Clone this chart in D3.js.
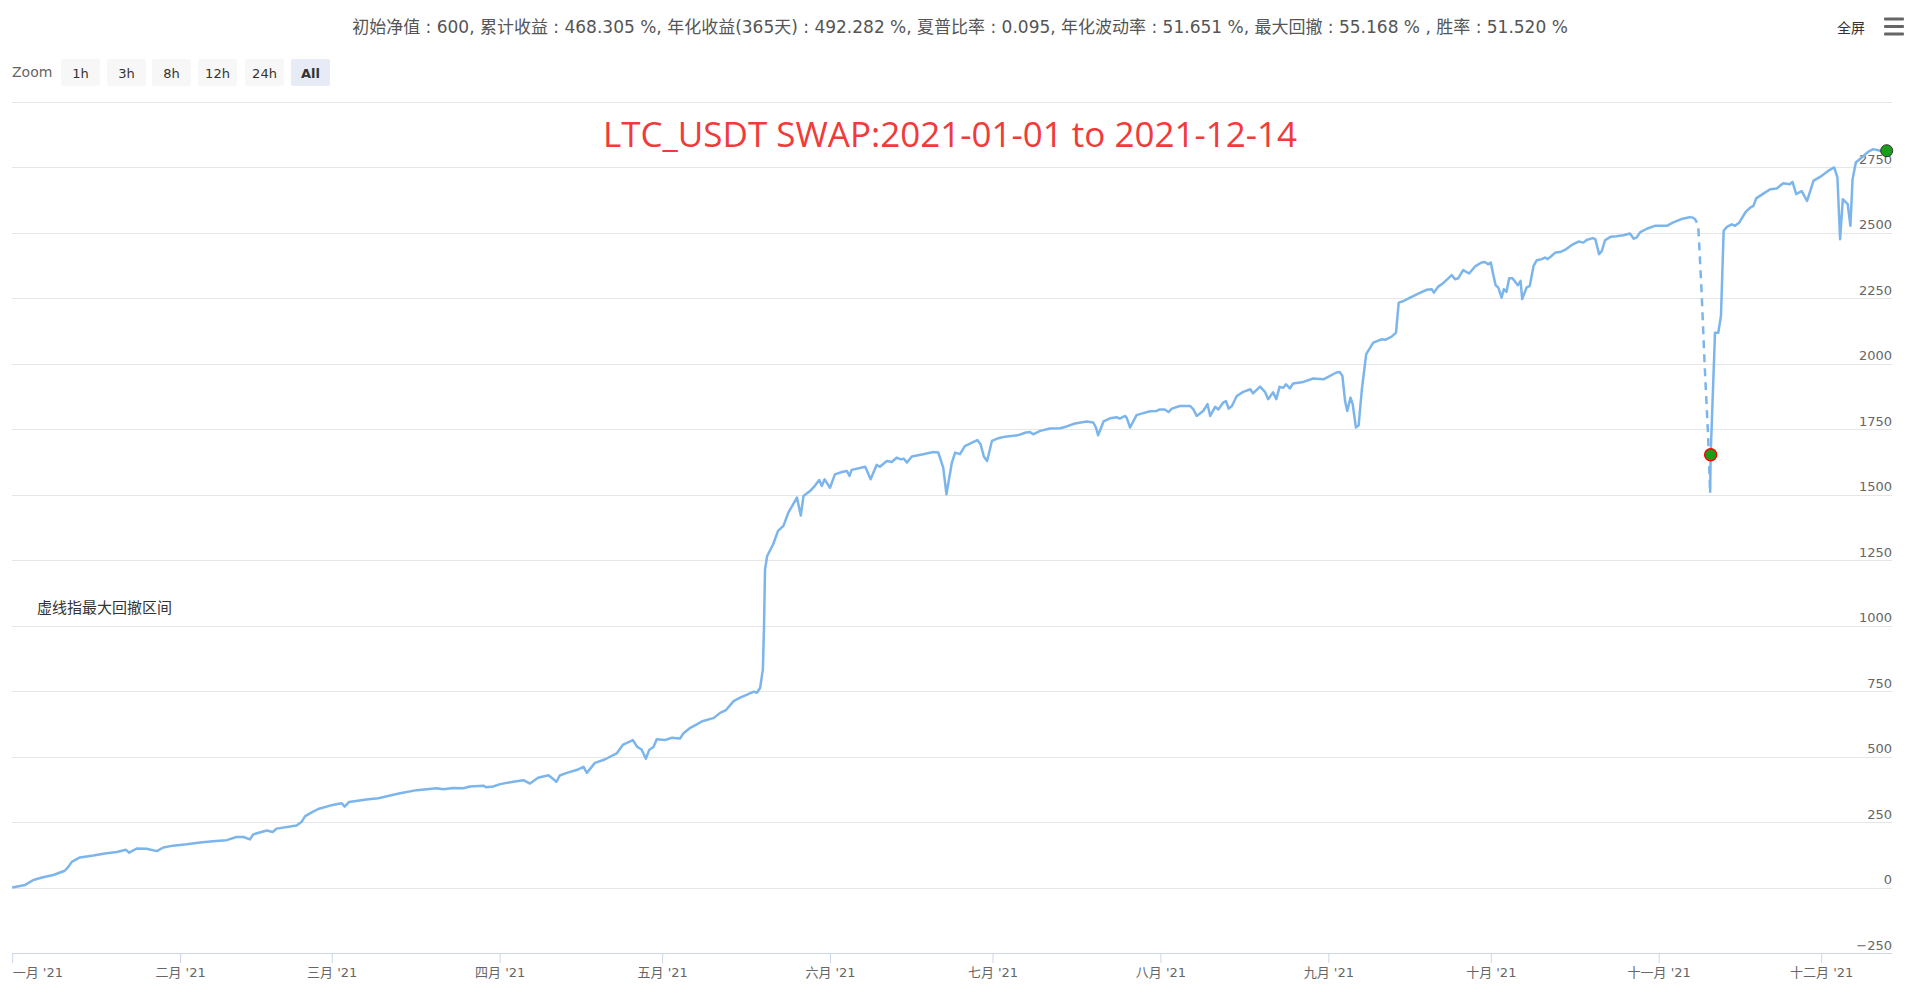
<!DOCTYPE html>
<html><head><meta charset="utf-8">
<script src="https://cdn.jsdelivr.net/npm/d3@7"></script>
<style>
body{margin:0;background:#fff;overflow:hidden}
svg{display:block}
</style>
</head><body>
<svg id="chart" width="1920" height="993"></svg>
<script>
// ---------- data (day offset from 2021-01-01, equity profit) ----------
const mainDays = [0,2.4,3.9,5.7,7.6,9.7,10.4,11,12.5,15,17.1,19.3,21,21.6,23,24.8,26.7,27.9,29.7,32.2,34.7,37.1,39.6,41.4,42.7,43.9,44.5,47,48.1,48.8,52.5,53.4,54.1,55.3,56.5,58.7,60.8,61.4,62.2,65.4,67.6,71.6,74.7,78.4,79.6,81.4,83.3,84.5,87,87.5,88.8,90.1,92.5,94.4,95.6,97.1,99,99.6,100.5,101.1,102.4,104.5,105.5,106.1,107.6,109.4,111.6,112.8,114.6,115.4,116.2,117,117.6,118.4,119,120.5,121.8,123.3,123.9,125.2,126.4,127.3,128.9,129.5,130.7,131.8,133.2,134.4,135.9,136.9,137.5,138.1,138.6,138.8,139,139.4,140.5,141.4,142.4,143.3,144.9,145.6,146.1,147.3,148.2,149,149.5,150,151,151.9,153.2,154.1,154.6,155,157.5,158.5,159.6,160.2,161.5,162.4,163.3,164.1,164.6,165.2,166.1,168.2,170.1,171,171.9,172.5,173.5,174.1,175,175.9,177.5,178.2,178.8,179.4,180,180.9,182.1,183.3,184.8,185.8,187,187.9,188.5,189.8,191.6,193.5,194.7,196.2,198.4,199.6,200.1,200.5,201.5,202.7,203.9,204.5,205.5,205.8,206.4,207.6,208.5,210.1,211.3,211.9,212.8,213.5,214.1,215.6,217.5,218.1,218.7,219.9,220.7,221.2,222.1,222.7,223.6,224.1,224.6,225.2,226.1,227.3,228.6,229.1,230.4,231.3,231.9,232.8,233.4,234,234.7,235.2,235.9,236.5,238.4,240.2,242.1,244.5,245.1,245.6,246.1,246.5,247.1,247.5,248.1,248.6,249.2,250,251.3,252.9,253.5,254.7,255.5,256,256.9,258.1,260,261.2,262.1,262.5,263.3,264.2,265.8,266.4,267,267.9,269,270.1,271.3,271.9,272.5,273,273.5,273.9,274.4,275,275.4,275.9,276.4,277,278,278.5,278.8,279.6,280.2,280.9,281.5,282.4,283,283.5,284.2,284.9,285.8,286.7,287.9,289.2,290.1,290.7,291.8,292.3,293,293.5,294.1,295.1,296.2,297.5,298.7,299.4,299.9,300.6,301.8,303.3,305.5,306.7,308.2,309.5,310.1];
const mainEquity = [0,10,29,39,48,64,80,98,115,122,130,136,144,133,149,148,139,153,160,165,172,177,181,193,193,184,203,218,212,225,237,250,273,287,300,313,322,309,327,336,341,360,372,379,375,380,379,386,389,383,386,395,404,410,397,419,429,419,404,428,438,451,461,438,476,489,512,546,563,537,527,492,525,537,566,563,572,569,588,610,623,634,644,647,667,678,712,725,739,748,744,763,833,986,1215,1266,1311,1362,1381,1432,1489,1421,1495,1514,1534,1556,1534,1559,1527,1578,1587,1591,1572,1595,1607,1559,1614,1607,1629,1625,1642,1635,1638,1623,1646,1655,1663,1661,1604,1502,1623,1661,1655,1686,1702,1709,1693,1646,1629,1706,1716,1722,1725,1728,1737,1740,1731,1744,1753,1754,1761,1772,1780,1776,1757,1727,1780,1792,1796,1791,1801,1793,1757,1804,1810,1819,1820,1826,1826,1816,1829,1839,1839,1826,1801,1820,1846,1801,1836,1826,1852,1858,1829,1839,1877,1893,1903,1887,1913,1893,1865,1891,1865,1912,1909,1922,1906,1925,1931,1944,1941,1967,1969,1954,1858,1820,1871,1846,1757,1765,1903,2037,2081,2094,2092,2104,2119,2234,2240,2253,2272,2283,2285,2272,2295,2308,2339,2323,2327,2358,2345,2372,2387,2389,2380,2387,2336,2300,2291,2253,2285,2275,2327,2327,2300,2317,2247,2291,2298,2374,2396,2400,2406,2400,2412,2425,2427,2435,2453,2467,2463,2473,2480,2476,2419,2431,2472,2485,2487,2491,2498,2478,2482,2503,2516,2527,2527,2540,2553,2559,2561];
// max drawdown interval (dashed)
const drawdownDays = [310.1,310.7,311.3,311.9,312.5,313.1,313.5];
const drawdownEquity = [2561,2553,2530,2285,1992,1737,1508];
// recovery after trough
const recoveryDays = [313.5,313.6,314.4,315,315.5,316,316.6,317.5,318.1,318.9,320,320.9,321.5,322,323.4,324.6,325.8,327,328.2,328.7,329.4,330.4,331.4,332.6,333.8,335.6,336.4,337,337.5,338,338.9,339.4,339.8,340.4,341.5,342.7,343.6,344.9,346.1];
const recoveryEquity = [1508,1653,2119,2119,2183,2508,2523,2533,2527,2540,2578,2597,2603,2632,2651,2667,2670,2690,2686,2695,2648,2660,2622,2700,2714,2741,2750,2712,2476,2629,2610,2527,2705,2769,2788,2810,2820,2814,2814];
const troughMarker = [313.6, 1653];
const endMarker = [346.1, 2814];

const yTicks = [-250,0,250,500,750,1000,1250,1500,1750,2000,2250,2500,2750,3000];
const monthLabels = ["一月 '21","二月 '21","三月 '21","四月 '21","五月 '21","六月 '21","七月 '21","八月 '21","九月 '21","十月 '21","十一月 '21","十二月 '21"];
const zoomButtons = ["1h","3h","8h","12h","24h","All"];
const statsText = "初始净值 : 600, 累计收益 : 468.305 %, 年化收益(365天) : 492.282 %, 夏普比率 : 0.095, 年化波动率 : 51.651 %, 最大回撤 : 55.168 % , 胜率 : 51.520 %";
const titleText = "LTC_USDT SWAP:2021-01-01 to 2021-12-14";
const noteText = "虚线指最大回撤区间";

// ---------- layout ----------
const FONT = '"DejaVu Sans","Noto Sans CJK SC",sans-serif';
const CJK = '"Noto Sans CJK SC","DejaVu Sans",sans-serif';
const plot = {left: 12.2, right: 1892, top: 102, bottom: 953};
const t0 = Date.UTC(2021,0,1);
const DAY = 86400000;
const toDate = d => new Date(t0 + d*DAY);

const x = d3.scaleUtc().domain([toDate(0), toDate(347.08)]).range([plot.left, plot.right]);
const y = d3.scaleLinear().domain([-250, 3000]).range([plot.bottom, plot.top]);

const svg = d3.select("#chart");

// grid
const grid = svg.append("g").attr("transform", `translate(${plot.right},0)`)
  .call(d3.axisLeft(y).tickValues(yTicks).tickSize(plot.right - plot.left).tickFormat(""));
grid.select(".domain").remove();
grid.selectAll("line").attr("stroke", "#e6e6e6").attr("shape-rendering","crispEdges");

// y labels
const yl = svg.append("g").attr("transform", `translate(${plot.right},0)`)
  .call(d3.axisLeft(y).tickValues(yTicks.filter(v => v < 3000)).tickSize(0).tickPadding(0).tickFormat(d3.format("d")));
yl.select(".domain").remove();
yl.selectAll("text").attr("font-family", FONT).attr("font-size", 13).attr("fill", "#666")
  .attr("dy", 0).attr("y", -4);

// x axis
const months = d3.utcMonth.range(toDate(0), toDate(347));
const xa = svg.append("g").attr("transform", `translate(0,${plot.bottom})`)
  .call(d3.axisBottom(x).tickValues(months).tickSize(10).tickPadding(5)
    .tickFormat((d,i) => monthLabels[i]));
xa.select(".domain").attr("stroke", "#ccd6eb").attr("d", `M${plot.left},0.5H${plot.right}`);
xa.selectAll(".tick line").attr("stroke", "#ccd6eb");
xa.selectAll("text").attr("font-family", FONT).attr("font-size", 13).attr("fill", "#666");
xa.selectAll(".tick").filter((d,i) => i === 0).select("text").attr("text-anchor", "start");

// lines
const line = d3.line().x(d => x(toDate(d[0]))).y(d => y(d[1]));
const zip = (a, b) => a.map((d,i) => [d, b[i]]);
const g = svg.append("g");
g.append("path").datum(zip(mainDays, mainEquity)).attr("d", line)
  .attr("fill","none").attr("stroke","#7cb5ec").attr("stroke-width",2.5).attr("stroke-linejoin","round");
g.append("path").datum(zip(drawdownDays, drawdownEquity)).attr("d", line)
  .attr("fill","none").attr("stroke","#7cb5ec").attr("stroke-width",2.5).attr("stroke-dasharray","8,6");
g.append("path").datum(zip(recoveryDays, recoveryEquity)).attr("d", line)
  .attr("fill","none").attr("stroke","#7cb5ec").attr("stroke-width",2.5).attr("stroke-linejoin","round");

// markers
svg.append("circle").attr("cx", x(toDate(troughMarker[0]))).attr("cy", y(troughMarker[1])).attr("r", 6)
  .attr("fill", "#1a9e1a").attr("stroke", "#ff0000").attr("stroke-width", 1.5);
svg.append("circle").attr("cx", x(toDate(endMarker[0]))).attr("cy", y(endMarker[1])).attr("r", 6)
  .attr("fill", "#1a9e1a").attr("stroke", "#333").attr("stroke-width", 1);

// texts
svg.append("text").attr("x", 960).attr("y", 33).attr("text-anchor","middle")
  .attr("font-family", FONT).attr("font-size", 17).attr("fill", "#555").text(statsText);
svg.append("text").attr("x", 950).attr("y", 147).attr("text-anchor","middle")
  .attr("font-family", '"Open Sans",sans-serif').attr("font-size", 35).attr("fill", "#f23a3a").text(titleText);
svg.append("text").attr("x", 37).attr("y", 613)
  .attr("font-family", CJK).attr("font-size", 15).attr("fill", "#333").text(noteText);

// range selector
svg.append("text").attr("x", 12).attr("y", 77).attr("font-family", FONT).attr("font-size", 14)
  .attr("fill", "#666").text("Zoom");
const btnX = [61,107,152,198,245,291];
const btns = svg.append("g").selectAll("g").data(zoomButtons).join("g")
  .attr("transform", (d,i) => `translate(${btnX[i]},59)`);
btns.append("rect").attr("width", 39).attr("height", 27).attr("rx", 2)
  .attr("fill", d => d === "All" ? "#e6ebf5" : "#f7f7f7");
btns.append("text").attr("x", 19.5).attr("y", 18.5).attr("text-anchor","middle")
  .attr("font-family", FONT).attr("font-size", 13)
  .attr("font-weight", d => d === "All" ? "bold" : "normal")
  .attr("fill", "#333").text(d => d);

// top right
svg.append("text").attr("x", 1865).attr("y", 33).attr("text-anchor","end")
  .attr("font-family", CJK).attr("font-size", 14).attr("fill", "#333").text("全屏");
[19, 26.5, 34].forEach(yy => svg.append("rect").attr("x", 1884).attr("y", yy-1.5).attr("width", 20)
  .attr("height", 3).attr("rx", 1).attr("fill", "#666"));
</script>
</body></html>
